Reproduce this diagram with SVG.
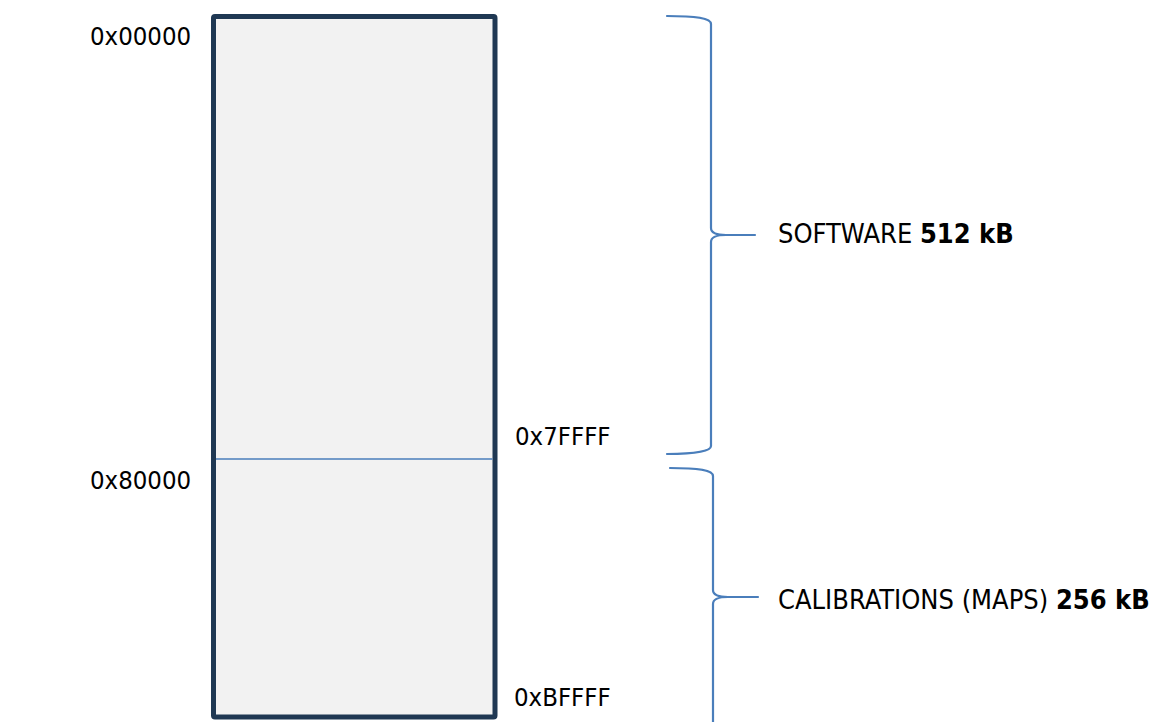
<svg xmlns="http://www.w3.org/2000/svg" width="1165" height="722" viewBox="0 0 1165 722">
  <style>
    .lbl { font-family: "DejaVu Sans Condensed", "DejaVu Sans", "Liberation Sans", sans-serif; font-stretch: condensed; font-size: 27px; fill: #000000; }
    .adr { font-size: 25.5px; }
    .b { font-weight: bold; }
    .brace { fill: none; stroke: #4A7EBB; stroke-width: 2.2; stroke-linecap: round; stroke-linejoin: round; }
    .mem { fill: #F2F2F2; stroke: #1F3853; stroke-width: 5; stroke-linejoin: round; }
  </style>
  <rect x="0" y="0" width="1165" height="722" fill="#FFFFFF"/>
  <g id="memory">
    <rect class="mem" x="213.5" y="16.5" width="281.5" height="700.5" rx="1.5"/>
    <line x1="216" y1="459" x2="492.5" y2="459" stroke="#4A7EBB" stroke-width="1.6"/>
  </g>
  <g id="addresses">
    <text class="lbl adr" x="90" y="45">0x00000</text>
    <text class="lbl adr" x="515" y="445">0x7FFFF</text>
    <text class="lbl adr" x="90" y="489">0x80000</text>
    <text class="lbl adr" x="514" y="706">0xBFFFF</text>
  </g>
  <g id="connectors">
    <path class="brace" d="M667,16 C696,16 711,18 711,24 L711,228 C711,233 716,235 726,235 L755,235 M726,235 C716,235 711,237 711,242 L711,446 C711,451 696,454 667,454"/>
    <path class="brace" d="M670,468 C699,468 713,470 713,476 L713,590 C713,595 718,597 728,597 L758,597 M728,597 C718,597 713,599 713,604 L713,722"/>
  </g>
  <g id="software">
    <text class="lbl" x="778" y="243">SOFTWARE <tspan class="b">512 kB</tspan></text>
  </g>
  <g id="calibrations">
    <text class="lbl" x="778" y="609">CALIBRATIONS (MAPS) <tspan class="b">256 kB</tspan></text>
  </g>
</svg>
